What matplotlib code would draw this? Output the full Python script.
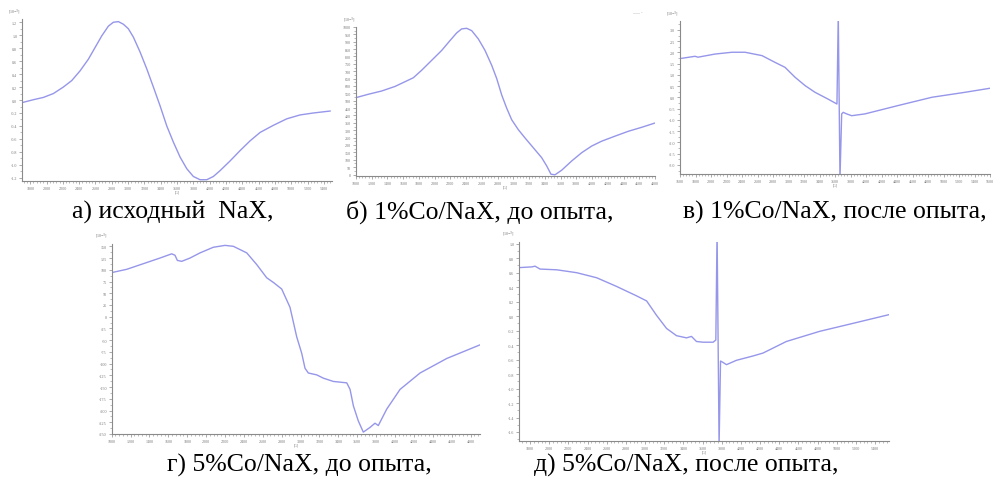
import matplotlib.pyplot as plt
from matplotlib.ticker import MultipleLocator, AutoMinorLocator

plt.rcParams['font.family'] = ['Liberation Serif', 'DejaVu Serif']

# EPR spectra, field in G, signal in 10^-3 units
# a) initial NaX
a_x = [1700, 1839, 1961, 2084, 2206, 2309, 2411, 2513, 2595, 2677, 2758, 2819, 2881, 2942,
       3003, 3065, 3147, 3229, 3310, 3392, 3474, 3555, 3637, 3719, 3800, 3882, 3964, 4045,
       4127, 4250, 4373, 4495, 4618, 4781, 4945, 5108, 5271, 5476]
a_y = [-0.04, 0.005, 0.04, 0.10, 0.20, 0.30, 0.45, 0.63, 0.81, 0.99, 1.14, 1.20, 1.21, 1.17,
       1.10, 0.97, 0.74, 0.48, 0.20, -0.09, -0.40, -0.65, -0.88, -1.06, -1.18, -1.23, -1.23, -1.18,
       -1.09, -0.94, -0.78, -0.63, -0.50, -0.39, -0.29, -0.23, -0.20, -0.17]

# b) 1%Co/NaX before run
b_x = [1000, 1157, 1326, 1496, 1623, 1729, 1835, 1962, 2089, 2195, 2280, 2343, 2407, 2471,
       2555, 2640, 2725, 2788, 2852, 2915, 2979, 3063, 3148, 3254, 3360, 3424, 3478, 3529,
       3614, 3742, 3869, 3996, 4123, 4292, 4461, 4631, 4800]
b_y = [521, 544, 566, 597, 629, 656, 707, 774, 841, 908, 960, 987, 991, 975,
       919, 841, 740, 651, 539, 450, 371, 304, 248, 181, 114, 58, 2, -2,
       29, 92, 148, 193, 226, 260, 293, 320, 349]

# c) 1%Co/NaX after run
c_x = [1622, 1794, 1832, 2052, 2271, 2439, 2658, 2826, 2955, 3084, 3213, 3342, 3509, 3625,
       3642, 3664, 3686, 3706, 3750, 3815, 3986, 4412, 4851, 5277, 5599]
c_y = [1.74, 1.83, 1.79, 1.93, 2.01, 2.01, 1.86, 1.56, 1.34, 0.90, 0.53, 0.23, -0.07, -0.29,
       3.71, -3.62, -0.73, -0.66, -0.73, -0.81, -0.73, -0.36, 0.01, 0.23, 0.41]

# d) 5%Co/NaX before run
d_x = [1000, 1159, 1335, 1511, 1635, 1670, 1695, 1741, 1829, 1935, 2076, 2200, 2288, 2430,
       2536, 2641, 2712, 2800, 2888, 2959, 3012, 3047, 3082, 3171, 3241, 3347, 3489, 3524,
       3559, 3611, 3664, 3735, 3788, 3823, 3912, 4053, 4265, 4548, 4900]
d_y = [94, 101, 113, 125, 134, 131, 120, 118, 125, 136, 148, 152, 150, 136,
       111, 83, 73, 59, 20, -43, -78, -110, -120, -124, -131, -138, -141, -155,
       -190, -222, -246, -236, -227, -232, -197, -155, -120, -89, -60]

# e) 5%Co/NaX after run
e_x = [1685, 1818, 1852, 1904, 2078, 2286, 2495, 2703, 2911, 3016, 3120, 3224, 3328, 3432,
       3484, 3536, 3605, 3710, 3738, 3751, 3772, 3787, 3814, 3849, 3953, 4126, 4230, 4474,
       4821, 5168, 5543]
e_y = [0.67, 0.68, 0.69, 0.65, 0.64, 0.60, 0.53, 0.41, 0.28, 0.21, 0.01, -0.17, -0.27, -0.30,
       -0.28, -0.35, -0.36, -0.36, -0.33, 1.18, -1.79, -0.62, -0.64, -0.67, -0.61, -0.55, -0.51, -0.35,
       -0.21, -0.10, 0.02]

captions = ['а) исходный  NaX,', 'б) 1%Co/NaX, до опыта,', 'в) 1%Co/NaX, после опыта,',
            'г) 5%Co/NaX, до опыта,', 'д) 5%Co/NaX, после опыта,']

line_color = '#9696ea'
axis_color = '#8a8a8a'

fig = plt.figure(figsize=(9.93, 4.85), dpi=100)


def spectrum(rect, xs, ys, xlim, ylim, xstep, ystep, fmt):
    ax = fig.add_axes(rect)
    ax.plot(xs, ys, color=line_color, lw=1.0)
    ax.set_xlim(*xlim)
    ax.set_ylim(*ylim)
    for s in ['top', 'right']:
        ax.spines[s].set_visible(False)
    for s in ['left', 'bottom']:
        ax.spines[s].set_color(axis_color)
        ax.spines[s].set_linewidth(0.8)
    ax.xaxis.set_major_locator(MultipleLocator(xstep))
    ax.yaxis.set_major_locator(MultipleLocator(ystep))
    ax.xaxis.set_minor_locator(AutoMinorLocator(5))
    ax.yaxis.set_minor_locator(AutoMinorLocator(2))
    ax.tick_params(which='major', length=2.5, width=0.5, color=axis_color,
                   labelsize=3, labelcolor='#777777', pad=1)
    ax.tick_params(which='minor', length=1.5, width=0.4, color=axis_color)
    ax.yaxis.set_major_formatter(plt.FuncFormatter(lambda v, p: fmt % v))
    ax.set_xlabel('[G]', fontsize=2.5, color='#777777', labelpad=0)
    ax.text(-0.045, 1.02, '[10$^{-3}$]', transform=ax.transAxes, fontsize=3,
            color='#777777', ha='left', va='bottom')
    return ax


spectrum([0.0222, 0.6247, 0.3122, 0.334], a_x, a_y, (1700, 5500), (-1.25, 1.25), 200, 0.2, '%.1f')
spectrum([0.3585, 0.6351, 0.3011, 0.3072], b_x, b_y, (1000, 4800), (-10, 1000), 200, 50, '%d')
spectrum([0.6848, 0.6392, 0.3122, 0.3155], c_x, c_y, (1600, 5600), (-3.4, 3.4), 200, 0.5, '%.1f')
spectrum([0.1125, 0.1031, 0.3709, 0.3918], d_x, d_y, (1000, 4900), (-250, 155), 200, 25, '%d')
spectrum([0.5227, 0.0893, 0.3726, 0.4091], e_x, e_y, (1685, 5545), (-1.72, 1.02), 200, 0.2, '%.1f')

# small legend remnant above panel б
fig.text(0.637, 0.972, '— ·', fontsize=5, color='#aaaaaa', ha='left', va='center')

cap_pos = [(173, 212), (480, 212), (835, 212), (299, 465), (686, 465)]
for text, (cx, cy) in zip(captions, cap_pos):
    fig.text(cx / 993, 1 - cy / 485, text, fontsize=18.5, ha='center', va='center')

fig.savefig('out.png', dpi=100)
